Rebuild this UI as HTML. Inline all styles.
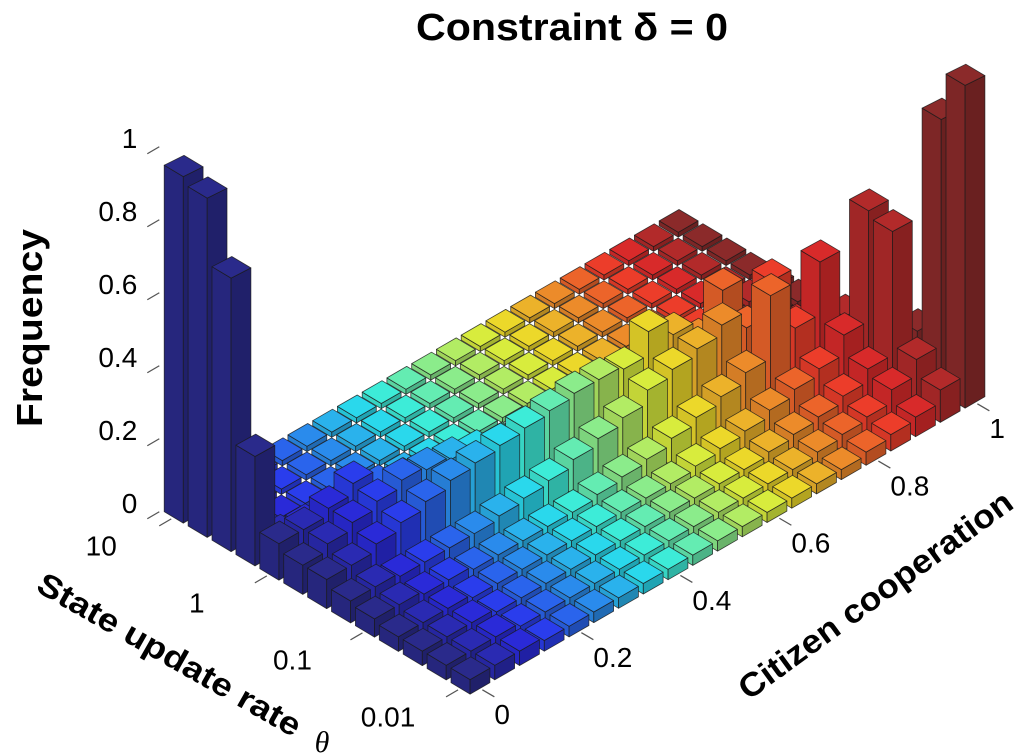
<!DOCTYPE html>
<html>
<head>
<meta charset="utf-8">
<style>
html,body{margin:0;padding:0;background:#fff;}
svg{display:block;font-family:"Liberation Sans",sans-serif;}
</style>
</head>
<body>
<svg id="chart" width="1024" height="756" viewBox="0 0 1024 756">
  <text x="572" y="40" text-anchor="middle" font-size="38" font-weight="bold" textLength="312" lengthAdjust="spacingAndGlyphs" fill="#000">Constraint δ = 0</text>
  <text transform="translate(42,328) rotate(-90)" text-anchor="middle" font-size="36" font-weight="bold" textLength="198" lengthAdjust="spacingAndGlyphs" fill="#000">Frequency</text>
  <text transform="translate(164,664) rotate(29.6)" text-anchor="middle" font-size="32" font-weight="bold" textLength="298" lengthAdjust="spacingAndGlyphs" fill="#000">State update rate</text>
  <text x="322" y="752" text-anchor="middle" font-size="30" font-style="italic" font-family="Liberation Serif, serif" fill="#000">θ</text>
  <text transform="translate(882,604) rotate(-36)" text-anchor="middle" font-size="33" font-weight="bold" textLength="330" lengthAdjust="spacingAndGlyphs" fill="#000">Citizen cooperation</text>
  <g id="ticks"></g>
  <g id="bars"></g>
</svg>
<script>
// ---- data ----
const coopTicks = [0, 0.2, 0.4, 0.6, 0.8, 1];
const coopTickLabels = ["0", "0.2", "0.4", "0.6", "0.8", "1"];
const thetaTicks = [-2, -1, 0, 1];
const thetaTickLabels = ["0.01", "0.1", "1", "10"];
const zTicks = [0, 0.2, 0.4, 0.6, 0.8, 1];
const zTickLabels = ["0", "0.2", "0.4", "0.6", "0.8", "1"];
// rows: theta index 0 (0.01, front) .. 12 (10, back); columns: citizen cooperation 0..1 step 0.05
const row0  = [.04,.04,.04,.03,.03,.03,.03,.03,.03,.03,.03,.03,.03,.03,.03,.03,.04,.05,.06,.10,1.0];
const row1  = [.04,.04,.04,.03,.03,.03,.03,.03,.03,.03,.03,.03,.03,.03,.03,.04,.05,.06,.10,.15,.85];
const row2  = [.04,.04,.04,.03,.03,.03,.03,.03,.03,.03,.03,.03,.03,.03,.04,.05,.06,.08,.12,.50,.15];
const row3  = [.04,.04,.04,.03,.03,.03,.03,.03,.03,.03,.03,.03,.04,.05,.06,.08,.10,.12,.18,.52,.10];
const row4  = [.05,.05,.04,.04,.03,.03,.03,.03,.03,.04,.05,.06,.08,.10,.12,.15,.34,.20,.36,.15,.06];
const row5  = [.06,.06,.05,.05,.05,.05,.06,.07,.08,.10,.12,.14,.18,.20,.22,.25,.20,.30,.12,.06,.04];
const row6  = [.08,.08,.10,.12,.14,.16,.17,.18,.19,.20,.21,.21,.20,.27,.22,.16,.27,.10,.05,.03,.02];
const row7  = [.08,.10,.12,.14,.16,.15,.14,.12,.10,.08,.06,.05,.04,.03,.02,.02,.02,.02,.02,.02,.02];
const row8  = [.10,.10,.12,.15,.10,.08,.06,.04,.03,.02,.02,.02,.02,.02,.02,.02,.02,.02,.02,.02,.02];
const row9  = [.30,.04,.03,.02,.015,.015,.015,.015,.015,.015,.015,.015,.015,.015,.015,.015,.015,.015,.015,.015,.015];
const row10 = [.75,.015,.015,.015,.015,.015,.015,.015,.015,.015,.015,.015,.015,.015,.015,.015,.015,.015,.015,.015,.015];
const row11 = [.93,.015,.015,.015,.015,.015,.015,.015,.015,.015,.015,.015,.015,.015,.015,.015,.015,.015,.015,.015,.015];
const row12 = [.95,.015,.015,.015,.015,.015,.015,.015,.015,.015,.015,.015,.015,.015,.015,.015,.015,.015,.015,.015,.015];
const freqRows = [row0,row1,row2,row3,row4,row5,row6,row7,row8,row9,row10,row11,row12];

// ---- projection ----
const NS = "http://www.w3.org/2000/svg";
const O = {x:470, y:697};
const EX = {x:24.75, y:-14.3};
const EY = {x:-23.9, y:-14.25};
function zScale(a){ return 365 - 2.1*a; }
function P(a,b,z){
  return {x: O.x + a*EX.x + b*EY.x, y: O.y + a*EX.y + b*EY.y - z*zScale(a)};
}
function coopToA(c){ return c*20 + 0.5; }
function thetaToB(l){ return (l+2)*4 + 0.5; }

function jet(t){
  const cl = v => Math.max(0, Math.min(1, v));
  return [cl(1.5-Math.abs(4*t-3)), cl(1.5-Math.abs(4*t-2)), cl(1.5-Math.abs(4*t-1))];
}
function rgb(c, k){
  const f = v => Math.round(Math.min(255, (v*0.76*255 + 42) * k));
  return "rgb(" + f(c[0]) + "," + f(c[1]) + "," + f(c[2]) + ")";
}
function poly(pts, fill, parent){
  const p = document.createElementNS(NS, "polygon");
  p.setAttribute("points", pts.map(q => q.x.toFixed(1)+","+q.y.toFixed(1)).join(" "));
  p.setAttribute("fill", fill);
  p.setAttribute("stroke", "#1a1a1a");
  p.setAttribute("stroke-width", "0.8");
  p.setAttribute("stroke-opacity", "0.8");
  p.setAttribute("stroke-linejoin", "round");
  parent.appendChild(p);
  return p;
}

// ---- ticks ----
const tg = document.getElementById("ticks");
function line(p1, p2, parent){
  const l = document.createElementNS(NS, "line");
  l.setAttribute("x1", p1.x); l.setAttribute("y1", p1.y);
  l.setAttribute("x2", p2.x); l.setAttribute("y2", p2.y);
  l.setAttribute("stroke", "#555"); l.setAttribute("stroke-width", "1.3");
  parent.appendChild(l);
  return l;
}
function label(x, y, txt, anchor, parent){
  const t = document.createElementNS(NS, "text");
  t.setAttribute("x", x); t.setAttribute("y", y);
  t.setAttribute("text-anchor", anchor);
  t.setAttribute("dominant-baseline", "middle");
  t.setAttribute("font-size", "28");
  t.setAttribute("fill", "#000");
  t.textContent = txt;
  parent.appendChild(t);
  return t;
}
coopTicks.forEach((c, k) => {
  const p = P(coopToA(c), 0, 0);
  const tl = line(p, {x:p.x+12, y:p.y+7}, tg);
  
  
  const lb = label(p.x+12, p.y+27, coopTickLabels[k], "start", tg);
  
  
});
thetaTicks.forEach((l, k) => {
  const p = P(0, thetaToB(l), 0);
  const tl = line(p, {x:p.x-12, y:p.y+7}, tg);
  
  
  const lb = label(p.x-70, p.y+29, thetaTickLabels[k], "middle", tg);
  
  
});
zTicks.forEach((z, k) => {
  const p = P(0, 13, z);
  const tl = line(p, {x:p.x-12, y:p.y+7}, tg);
  
  
  const lb = label(p.x-22, p.y-6, zTickLabels[k], "end", tg);
  
  
});

// ---- bars ----
const bg = document.getElementById("bars");
const cells = [];
freqRows.forEach((row, j) => row.forEach((v, i) => cells.push({i, j, v})));
cells.sort((A, B) => (B.i + B.j) - (A.i + A.j) || (B.j - A.j));
const W0 = 0.1, W1 = 0.9;
cells.forEach(c => {
  const nCols = freqRows[0].length;
  const col = jet(c.i/(nCols-1));
  const a0 = c.i + W0, a1 = c.i + W1, b0 = c.j + W0, b1 = c.j + W1;
  const z = c.v;
  const g = document.createElementNS(NS, "g");
  
  
  poly([P(a0,b0,0),P(a0,b1,0),P(a0,b1,z),P(a0,b0,z)], rgb(col,0.9), g);
  poly([P(a0,b0,0),P(a1,b0,0),P(a1,b0,z),P(a0,b0,z)], rgb(col,0.76), g);
  poly([P(a0,b0,z),P(a1,b0,z),P(a1,b1,z),P(a0,b1,z)], rgb(col,1.0), g);
  bg.appendChild(g);
});
</script>
</body>
</html>
